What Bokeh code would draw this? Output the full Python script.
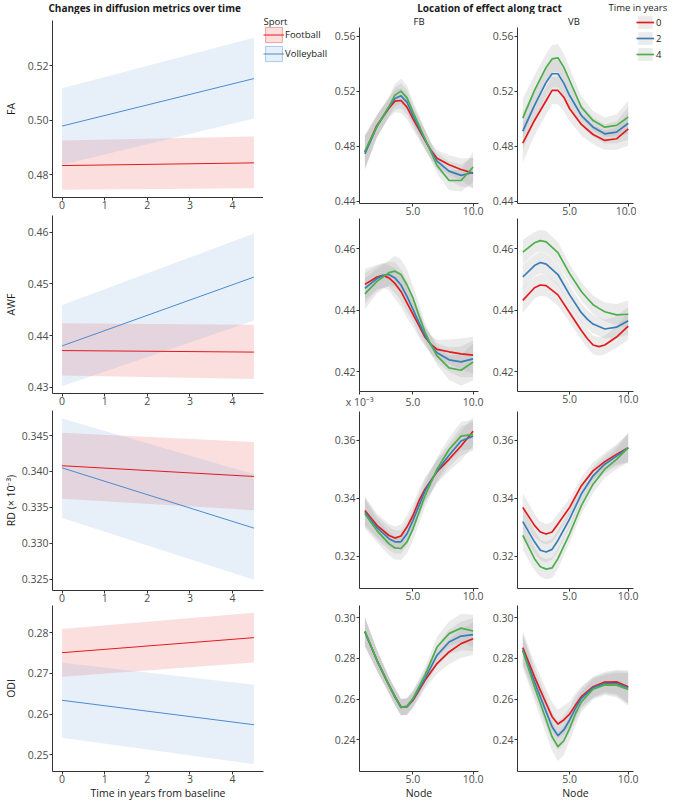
from bokeh.plotting import figure
from bokeh.models import Range1d, FixedTicker, NumeralTickFormatter, Legend, LegendItem, Label
from bokeh.layouts import row, column
from bokeh.embed import file_html
from bokeh.resources import INLINE

# ---------------- data ----------------
years = [0.0, 4.5]
year_ticks = [0, 1, 2, 3, 4]
node_ticks = [5.0, 10.0]
sports = ["Football", "Volleyball"]
time_groups = ["0", "2", "4"]
metric_labels = ["FA", "AWF", "RD (\u00d7 10\u207b\u00b3)", "ODI"]

# left column: fitted change over time (Football / Volleyball)
fa_fb_fit = [0.4833, 0.4843]
fa_fb_lo = [0.4744, 0.4750]
fa_fb_hi = [0.4925, 0.4940]
fa_vb_fit = [0.4978, 0.5152]
fa_vb_lo = [0.4836, 0.5006]
fa_vb_hi = [0.5117, 0.5302]

awf_fb_fit = [0.4371, 0.4368]
awf_fb_lo = [0.4323, 0.4316]
awf_fb_hi = [0.4424, 0.4421]
awf_vb_fit = [0.4380, 0.4513]
awf_vb_lo = [0.4302, 0.4429]
awf_vb_hi = [0.4459, 0.4597]

rd_fb_fit = [0.3408, 0.3393]
rd_fb_lo = [0.3362, 0.3346]
rd_fb_hi = [0.3454, 0.3441]
rd_vb_fit = [0.3405, 0.3321]
rd_vb_lo = [0.3335, 0.3249]
rd_vb_hi = [0.3474, 0.3396]

odi_fb_fit = [0.2751, 0.2788]
odi_fb_lo = [0.2692, 0.2727]
odi_fb_hi = [0.2809, 0.2849]
odi_vb_fit = [0.2634, 0.2574]
odi_vb_lo = [0.2542, 0.2477]
odi_vb_hi = [0.2726, 0.2672]

# right columns: profiles along tract, time 0 / 2 / 4 years, with half-width of band
fa_fb_nodes = [1, 2, 3, 3.5, 4, 4.5, 5, 6, 6.5, 7, 8, 9, 10]
fa_fb_t0 = [0.4758, 0.4952, 0.5077, 0.5128, 0.5133, 0.5085, 0.5000, 0.4843, 0.4770, 0.4714, 0.4666, 0.4632, 0.4606]
fa_fb_t2 = [0.4746, 0.4944, 0.5085, 0.5148, 0.5167, 0.5121, 0.5024, 0.4848, 0.4765, 0.4693, 0.4620, 0.4589, 0.4610]
fa_fb_t4 = [0.4765, 0.4944, 0.5089, 0.5172, 0.5201, 0.5152, 0.5048, 0.4855, 0.4758, 0.4661, 0.4552, 0.4552, 0.4649]
fa_fb_se = [0.012, 0.008, 0.007, 0.008, 0.009, 0.009, 0.008, 0.007, 0.006, 0.006, 0.007, 0.008, 0.011]

fa_vb_nodes = [1, 2, 3, 3.5, 4, 4.5, 5, 6, 7, 8, 9, 10]
fa_vb_t0 = [0.4823, 0.4988, 0.5133, 0.5206, 0.5206, 0.5157, 0.5073, 0.4959, 0.4886, 0.4843, 0.4855, 0.4927]
fa_vb_t2 = [0.4910, 0.5097, 0.5266, 0.5327, 0.5327, 0.5259, 0.5169, 0.5024, 0.4939, 0.4891, 0.4903, 0.4968]
fa_vb_t4 = [0.5005, 0.5206, 0.5375, 0.5435, 0.5443, 0.5375, 0.5278, 0.5084, 0.4987, 0.4939, 0.4952, 0.5012]
fa_vb_se = [0.014, 0.011, 0.010, 0.010, 0.010, 0.010, 0.009, 0.008, 0.007, 0.007, 0.008, 0.012]

awf_fb_nodes = [1, 2, 2.5, 3, 3.5, 4, 4.5, 5, 5.5, 6, 6.5, 7, 8, 9, 10]
awf_fb_t0 = [0.4484, 0.4508, 0.4513, 0.4505, 0.4487, 0.4461, 0.4424, 0.4387, 0.4350, 0.4313, 0.4289, 0.4273, 0.4265, 0.4258, 0.4254]
awf_fb_t2 = [0.4471, 0.4503, 0.4513, 0.4516, 0.4505, 0.4482, 0.4445, 0.4403, 0.4360, 0.4318, 0.4287, 0.4262, 0.4239, 0.4232, 0.4242]
awf_fb_t4 = [0.4453, 0.4494, 0.4508, 0.4522, 0.4527, 0.4516, 0.4482, 0.4440, 0.4382, 0.4329, 0.4287, 0.4252, 0.4213, 0.4205, 0.4232]
awf_fb_se = [0.005, 0.004, 0.004, 0.004, 0.005, 0.005, 0.005, 0.004, 0.004, 0.003, 0.003, 0.003, 0.004, 0.005, 0.006]

awf_vb_nodes = [1, 2, 2.5, 3, 4, 5, 6, 6.5, 7, 7.5, 8, 9, 10]
awf_vb_t0 = [0.4432, 0.4473, 0.4482, 0.4480, 0.4450, 0.4392, 0.4334, 0.4308, 0.4287, 0.4282, 0.4287, 0.4313, 0.4348]
awf_vb_t2 = [0.4508, 0.4545, 0.4555, 0.4550, 0.4516, 0.4450, 0.4392, 0.4371, 0.4355, 0.4347, 0.4339, 0.4345, 0.4366]
awf_vb_t4 = [0.4589, 0.4619, 0.4626, 0.4622, 0.4587, 0.4519, 0.4461, 0.4439, 0.4418, 0.4406, 0.4395, 0.4385, 0.4387]
awf_vb_se = [0.004, 0.0035, 0.0035, 0.0035, 0.0035, 0.003, 0.003, 0.003, 0.003, 0.003, 0.003, 0.0035, 0.0045]

rd_fb_nodes = [1, 2, 3, 3.5, 4, 4.5, 5, 5.5, 6, 7, 8, 9, 10]
rd_fb_t0 = [0.3358, 0.3307, 0.3272, 0.3263, 0.3270, 0.3301, 0.3341, 0.3392, 0.3432, 0.3492, 0.3535, 0.3581, 0.3632]
rd_fb_t2 = [0.3352, 0.3299, 0.3261, 0.3250, 0.3250, 0.3278, 0.3324, 0.3375, 0.3426, 0.3495, 0.3549, 0.3598, 0.3615]
rd_fb_t4 = [0.3347, 0.3289, 0.3244, 0.3229, 0.3227, 0.3250, 0.3295, 0.3352, 0.3409, 0.3501, 0.3569, 0.3615, 0.3621]
rd_fb_se = [0.005, 0.004, 0.004, 0.004, 0.004, 0.004, 0.004, 0.004, 0.004, 0.004, 0.004, 0.005, 0.005]

rd_vb_nodes = [1, 2, 2.5, 3, 3.5, 4, 5, 6, 7, 8, 9, 10]
rd_vb_t0 = [0.3369, 0.3307, 0.3284, 0.3277, 0.3284, 0.3312, 0.3369, 0.3444, 0.3495, 0.3527, 0.3552, 0.3575]
rd_vb_t2 = [0.3320, 0.3250, 0.3221, 0.3215, 0.3224, 0.3255, 0.3329, 0.3415, 0.3478, 0.3518, 0.3546, 0.3575]
rd_vb_t4 = [0.3272, 0.3192, 0.3164, 0.3156, 0.3160, 0.3192, 0.3278, 0.3375, 0.3449, 0.3501, 0.3535, 0.3575]
rd_vb_se = [0.005, 0.004, 0.0035, 0.0035, 0.0035, 0.0035, 0.003, 0.003, 0.003, 0.003, 0.0035, 0.005]

odi_fb_nodes = [1, 2, 3, 3.5, 4, 4.5, 5, 6, 7, 8, 9, 10]
odi_fb_t0 = [0.2930, 0.2791, 0.2669, 0.2612, 0.2563, 0.2563, 0.2595, 0.2693, 0.2775, 0.2832, 0.2873, 0.2897]
odi_fb_t2 = [0.2930, 0.2791, 0.2669, 0.2612, 0.2560, 0.2563, 0.2599, 0.2701, 0.2816, 0.2881, 0.2910, 0.2917]
odi_fb_t4 = [0.2935, 0.2791, 0.2669, 0.2612, 0.2560, 0.2566, 0.2604, 0.2718, 0.2856, 0.2922, 0.2949, 0.2935]
odi_fb_se = [0.007, 0.005, 0.004, 0.004, 0.004, 0.004, 0.004, 0.004, 0.005, 0.006, 0.007, 0.008]

odi_vb_nodes = [1, 2, 3, 3.5, 4, 4.5, 5, 5.5, 6, 7, 8, 9, 10]
odi_vb_t0 = [0.2853, 0.2710, 0.2579, 0.2514, 0.2478, 0.2498, 0.2527, 0.2571, 0.2612, 0.2661, 0.2684, 0.2685, 0.2661]
odi_vb_t2 = [0.2843, 0.2685, 0.2538, 0.2465, 0.2421, 0.2449, 0.2498, 0.2555, 0.2604, 0.2656, 0.2677, 0.2677, 0.2656]
odi_vb_t4 = [0.2837, 0.2661, 0.2498, 0.2416, 0.2367, 0.2396, 0.2457, 0.2530, 0.2587, 0.2649, 0.2670, 0.2669, 0.2648]
odi_vb_se = [0.008, 0.007, 0.007, 0.007, 0.007, 0.007, 0.006, 0.006, 0.005, 0.005, 0.005, 0.006, 0.008]

# ---------------- style ----------------
FONT = "Open Sans"
RED, BLUE, GREEN = "#E41A1C", "#377EB8", "#4DAF4A"
TIME_COLORS = [RED, BLUE, GREEN]
FB_FILL, VB_FILL, VB_LINE = RED, "#5B9BD5", "#4A8BD0"
TICK_FS = "10.5px"
LAB_FS = "10.5px"
NAN = float("nan")

L_PLOT_W, SPORT_W = 263, 68
LEFT_W = L_PLOT_W + SPORT_W
FB_W, VB_W, TL_W = 158, 185, 38
RIGHT_W = FB_W + VB_W
LEFT_X = (-0.225, 4.725)
NODE_X = (0.55, 10.45)
TOP_H = 14      # height of the title strips
FBVB_H = 13     # height of the FB / VB strip


def style(p, xfmt, yfmt, xticks, yticks):
    p.grid.visible = False
    p.outline_line_color = None
    p.background_fill_color = "white"
    p.border_fill_color = "white"
    for ax in p.axis:
        ax.axis_line_color = "#333333"
        ax.axis_line_width = 1
        ax.major_tick_line_color = "#333333"
        ax.major_tick_in = 0
        ax.major_tick_out = 3
        ax.minor_tick_line_color = None
        ax.major_label_text_font = FONT
        ax.major_label_text_font_size = TICK_FS
        ax.major_label_text_color = "#4D4D4D"
        ax.axis_label_text_font = FONT
        ax.axis_label_text_font_size = LAB_FS
        ax.axis_label_text_font_style = "normal"
        ax.axis_label_text_color = "#1A1A1A"
        ax.major_label_standoff = 1
    p.xaxis.major_label_standoff = 0
    p.xaxis.axis_label_standoff = 0
    p.xaxis.ticker = FixedTicker(ticks=xticks)
    p.yaxis.ticker = FixedTicker(ticks=yticks)
    p.xaxis.formatter = NumeralTickFormatter(format=xfmt)
    p.yaxis.formatter = NumeralTickFormatter(format=yfmt)


def blank_fig(width, height):
    p = figure(width=width, height=height, x_range=Range1d(0, width), y_range=Range1d(0, height),
               output_backend="svg", toolbar_location=None, min_border=0,
               x_axis_location=None, y_axis_location=None)
    p.grid.visible = False
    p.outline_line_color = None
    p.background_fill_color = "white"
    p.border_fill_color = "white"
    return p


def text_label(p, x, y, text, size="10px", bold=False, align="center", color="#1A1A1A"):
    p.add_layout(Label(x=x, y=y, text=text, text_align=align, text_baseline="middle", text_font=FONT,
                       text_font_size=size, text_font_style="bold" if bold else "normal", text_color=color))


def left_fig(width, height, top, bottom, right, yr, yticks, yfmt, ylabel, fb, vb, xlabel=None, ylab_standoff=3):
    p = figure(width=width, height=height, x_range=Range1d(*LEFT_X), y_range=Range1d(*yr),
               output_backend="svg", toolbar_location=None,
               min_border_left=44, min_border_right=right, min_border_top=top, min_border_bottom=bottom)
    style(p, "0", yfmt, year_ticks, yticks)
    p.yaxis.axis_label = ylabel
    p.yaxis.axis_label_standoff = ylab_standoff
    if xlabel:
        p.xaxis.axis_label = xlabel
    fb_fit, fb_lo, fb_hi = fb
    vb_fit, vb_lo, vb_hi = vb
    p.varea(x=years, y1=fb_lo, y2=fb_hi, fill_color=FB_FILL, fill_alpha=0.14)
    p.varea(x=years, y1=vb_lo, y2=vb_hi, fill_color=VB_FILL, fill_alpha=0.15)
    p.line(years, fb_fit, line_color=RED, line_width=1)
    p.line(years, vb_fit, line_color=VB_LINE, line_width=1)
    return p


def tract_fig(width, height, lb, rb, tb, bb, yr, yticks, nodes, t0, t2, t4, se, xlabel=None):
    p = figure(width=width, height=height, x_range=Range1d(*NODE_X), y_range=Range1d(*yr),
               output_backend="svg", toolbar_location=None,
               min_border_left=lb, min_border_right=rb, min_border_top=tb, min_border_bottom=bb)
    style(p, "0.0", "0.00", node_ticks, yticks)
    if xlabel:
        p.xaxis.axis_label = xlabel
    for vals in (t0, t2, t4):
        lo = [v - s for v, s in zip(vals, se)]
        hi = [v + s for v, s in zip(vals, se)]
        p.varea(x=nodes, y1=lo, y2=hi, fill_color="#999999", fill_alpha=0.2)
    for vals, col in zip((t0, t2, t4), TIME_COLORS):
        p.line(nodes, vals, line_color=col, line_width=1.7, line_join="round")
    return p


def style_legend(lg, gw, gh, standoff):
    lg.label_text_font = FONT
    lg.label_text_font_size = "9.5px"
    lg.label_text_color = "#1A1A1A"
    lg.glyph_width = gw
    lg.glyph_height = gh
    lg.label_height = gh
    lg.spacing = 0
    lg.padding = 0
    lg.margin = 0
    lg.label_standoff = standoff
    lg.border_line_color = None
    lg.background_fill_alpha = 0


# ---------------- left column ----------------
strip_left = blank_fig(LEFT_W, TOP_H)
text_label(strip_left, 48, TOP_H / 2, "Changes in diffusion metrics over time", bold=True, align="left")

L1_H = 213 - TOP_H
L1 = left_fig(L_PLOT_W, L1_H, 20 - TOP_H, 16, 0, (0.4716, 0.5365), [0.48, 0.50, 0.52], "0.00", metric_labels[0],
              (fa_fb_fit, fa_fb_lo, fa_fb_hi), (fa_vb_fit, fa_vb_lo, fa_vb_hi), ylab_standoff=7)
L2 = left_fig(LEFT_W, 196, 2, 16, SPORT_W, (0.4288, 0.4632), [0.43, 0.44, 0.45, 0.46], "0.00", metric_labels[1],
              (awf_fb_fit, awf_fb_lo, awf_fb_hi), (awf_vb_fit, awf_vb_lo, awf_vb_hi), ylab_standoff=7)
L3 = left_fig(LEFT_W, 195, 1, 14, SPORT_W, (0.3234, 0.3485), [0.325, 0.330, 0.335, 0.340, 0.345], "0.000",
              metric_labels[2], (rd_fb_fit, rd_fb_lo, rd_fb_hi), (rd_vb_fit, rd_vb_lo, rd_vb_hi), ylab_standoff=1)
L4 = left_fig(LEFT_W, 198, 1, 30, SPORT_W, (0.2459, 0.2867), [0.25, 0.26, 0.27, 0.28], "0.00", metric_labels[3],
              (odi_fb_fit, odi_fb_lo, odi_fb_hi), (odi_vb_fit, odi_vb_lo, odi_vb_hi),
              xlabel="Time in years from baseline", ylab_standoff=7)

# Sport legend, in its own strip to the right of the FA panel
sport_fig = blank_fig(SPORT_W, L1_H)
text_label(sport_fig, 0, L1_H - 7, "Sport", size="9.5px", align="left")
q_fb = sport_fig.quad(left=[NAN], right=[NAN], top=[NAN], bottom=[NAN], fill_color=FB_FILL, fill_alpha=0.14,
                      line_color="#F0A3A4", line_width=1)
k_fb = sport_fig.line(x=[NAN], y=[NAN], line_color=RED, line_width=1)
q_vb = sport_fig.quad(left=[NAN], right=[NAN], top=[NAN], bottom=[NAN], fill_color=VB_FILL, fill_alpha=0.15,
                      line_color="#A9C9EC", line_width=1)
k_vb = sport_fig.line(x=[NAN], y=[NAN], line_color=VB_LINE, line_width=1)
sport_legend = Legend(items=[LegendItem(label=sports[0], renderers=[q_fb, k_fb]),
                             LegendItem(label=sports[1], renderers=[q_vb, k_vb])],
                      location=(0, 150))
style_legend(sport_legend, 21, 19, 1)
sport_fig.add_layout(sport_legend)

# wrapping the strips in their own row/column keeps them out of the border alignment of the panels
left_col = column(row(strip_left), row(L1, column(sport_fig)), L2, L3, L4)

# ---------------- right column ----------------
strip_top = blank_fig(RIGHT_W, TOP_H)
text_label(strip_top, 158, TOP_H / 2, "Location of effect along tract", bold=True)
text_label(strip_top, 277, TOP_H / 2, "Time in years", size="9.5px", align="left")

strip_fbvb = blank_fig(RIGHT_W - TL_W, FBVB_H)
text_label(strip_fbvb, 87.5, FBVB_H / 2, "FB", size="9.5px")
text_label(strip_fbvb, 242.5, FBVB_H / 2, "VB", size="9.5px")

R1_H = 218 - TOP_H - FBVB_H
rows_spec = [
    (R1_H, 0, 15, (0.4385, 0.5663), [0.44, 0.48, 0.52, 0.56],
     (fa_fb_nodes, fa_fb_t0, fa_fb_t2, fa_fb_t4, fa_fb_se), (fa_vb_nodes, fa_vb_t0, fa_vb_t2, fa_vb_t4, fa_vb_se), None),
    (193, 0, 15, (0.4136, 0.4698), [0.42, 0.44, 0.46],
     (awf_fb_nodes, awf_fb_t0, awf_fb_t2, awf_fb_t4, awf_fb_se), (awf_vb_nodes, awf_vb_t0, awf_vb_t2, awf_vb_t4, awf_vb_se), None),
    (194, 0, 17, (0.3089, 0.3700), [0.32, 0.34, 0.36],
     (rd_fb_nodes, rd_fb_t0, rd_fb_t2, rd_fb_t4, rd_fb_se), (rd_vb_nodes, rd_vb_t0, rd_vb_t2, rd_vb_t4, rd_vb_se), None),
    (197, 0, 30, (0.2245, 0.306), [0.24, 0.26, 0.28, 0.30],
     (odi_fb_nodes, odi_fb_t0, odi_fb_t2, odi_fb_t4, odi_fb_se), (odi_vb_nodes, odi_vb_t0, odi_vb_t2, odi_vb_t4, odi_vb_se), "Node"),
]

right_children = [strip_top]
for i, (h, tb, bb, yr, yt, fbd, vbd, xl) in enumerate(rows_spec):
    fbp = tract_fig(FB_W, h, 28, 11, tb, bb, yr, yt, *fbd, xlabel=xl)
    if i == 0:
        vbp = tract_fig(VB_W - TL_W, h, 25, 3, tb, bb, yr, yt, *vbd, xlabel=xl)
        # legend for time in years, in a narrow strip right of the VB panel
        tl_h = h + FBVB_H
        tl_fig = blank_fig(TL_W, tl_h)
        items = []
        for g, col in zip(time_groups, TIME_COLORS):
            a = tl_fig.varea(x=[NAN], y1=[NAN], y2=[NAN], fill_color="#999999", fill_alpha=0.2)
            l = tl_fig.line(x=[NAN], y=[NAN], line_color=col, line_width=1.7)
            items.append(LegendItem(label=g, renderers=[a, l]))
        tl = Legend(items=items, location=(0, tl_h - 48))
        style_legend(tl, 18, 16, 2)
        tl_fig.add_layout(tl)
        right_children.append(row(column(strip_fbvb, row(fbp, vbp)), tl_fig))
    else:
        vbp = tract_fig(VB_W, h, 25, 41, tb, bb, yr, yt, *vbd, xlabel=xl)
        if i == 1:
            # the "x 10^-3" multiplier of the next row sits in this row's tick-label band
            fbp.xaxis.ticker = FixedTicker(ticks=[0.56] + node_ticks)
            fbp.xaxis.major_label_overrides = {0.56: "x 10\u207b\u00b3"}
        right_children.append(row(fbp, vbp))

right_col = column(*right_children)
page = row(left_col, right_col)

open("out.html", "w").write(file_html(page, INLINE))
